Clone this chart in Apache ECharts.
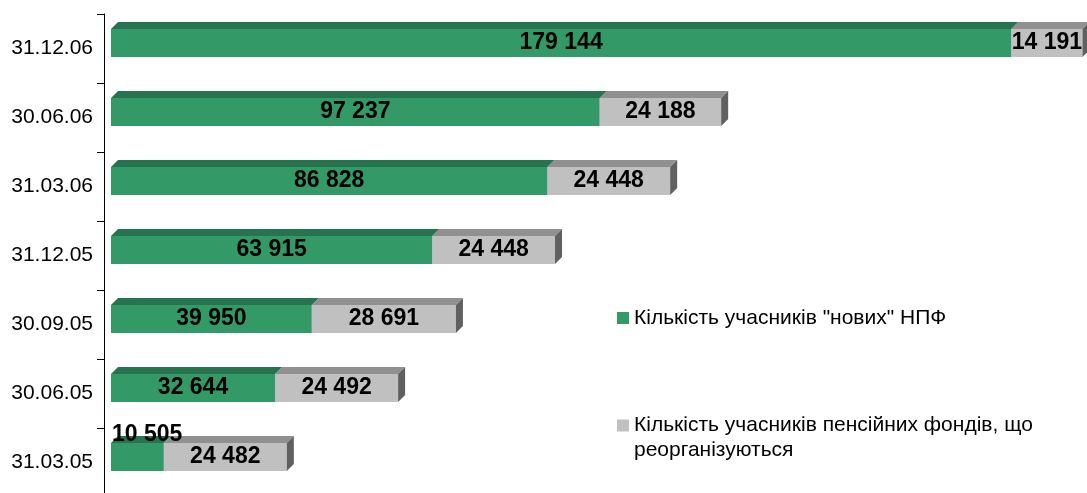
<!DOCTYPE html>
<html>
<head>
<meta charset="utf-8">
<script src="https://cdn.jsdelivr.net/npm/echarts@6/dist/echarts.min.js"></script>
<style>
  html, body { margin: 0; padding: 0; background: #fff; }
  #chart { width: 1087px; height: 493px; }
</style>
</head>
<body>
<div id="chart"></div>
<script>
// дати (знизу вгору)
const dates = ['31.03.05', '30.06.05', '30.09.05', '31.12.05', '31.03.06', '30.06.06', '31.12.06']
// учасники "нових" НПФ
const newFunds = [10505, 32644, 39950, 63915, 86828, 97237, 179144]
// учасники фондів, що реорганізуються
const reorgFunds = [24482, 24492, 28691, 24448, 24448, 24188, 14191]

const nameNew = 'Кількість учасників "нових" НПФ'
const nameReorg = 'Кількість учасників пенсійних фондів, що реорганізуються'

const FONT = 'Liberation Sans, Arial, sans-serif'
const D = 7 // глибина 3D

function fmt(v) {
  return String(v).replace(/\B(?=(\d{3})+(?!\d))/g, ' ')
}

function makeRender(colors, withSide, small) {
  return function (params, api) {
    const cat = api.value(0)
    const start = api.value(1)
    const end = api.value(2)
    const val = api.value(3)
    const p0 = api.coord([start, cat])
    const p1 = api.coord([end, cat])
    const yc = p0[1]
    const x0 = p0[0] + D
    const x1 = p1[0] + D
    const yt = yc - 19.5
    const h = 28
    const children = [
      { type: 'rect', shape: { x: x0, y: yt, width: x1 - x0, height: h }, style: { fill: colors[0] } },
      { type: 'polygon', shape: { points: [[x0, yt], [x0 + D, yt - D], [x1 + D, yt - D], [x1, yt]] }, style: { fill: colors[1] } }
    ]
    if (withSide) {
      children.push({ type: 'polygon', shape: { points: [[x1, yt], [x1 + D, yt - D], [x1 + D, yt + h - D], [x1, yt + h]] }, style: { fill: colors[2] } })
    }
    const isSmall = val < small
    children.push({
      type: 'text',
      style: {
        text: fmt(val),
        x: isSmall ? x0 + 1 : (x0 + x1) / 2,
        y: isSmall ? yc - 28 : yc - 5.5,
        align: isSmall ? 'left' : 'center',
        verticalAlign: 'middle',
        font: 'bold 23px ' + FONT,
        fill: '#000'
      }
    })
    return { type: 'group', children }
  }
}

const chart = echarts.init(document.getElementById('chart'))
chart.setOption({
  backgroundColor: '#fff',
  animation: false,
  grid: { left: 104, top: 14, width: 1005, height: 483, outerBoundsMode: 'none' },
  xAxis: { type: 'value', min: 0, max: 200000, show: false, splitLine: { show: false } },
  yAxis: {
    type: 'category',
    data: dates,
    axisLine: { show: true, lineStyle: { color: '#000', width: 1 } },
    axisTick: { show: true, length: 7, lineStyle: { color: '#000' } },
    axisLabel: { color: '#000', fontSize: 21, fontFamily: FONT, margin: 11 }
  },
  legend: [
    {
      left: 617, top: 307, padding: 0, icon: 'rect', itemWidth: 12, itemHeight: 12, itemGap: 0,
      selectedMode: false,
      data: [nameNew],
      textStyle: { color: '#000', fontSize: 21, fontFamily: FONT, lineHeight: 22 }
    },
    {
      left: 617, top: 388, padding: 0, icon: 'rect', itemWidth: 12, itemHeight: 12, itemGap: 0,
      selectedMode: false,
      data: [nameReorg],
      formatter: n => '\n' + n.replace(', що ', ', що\n'),
      textStyle: { color: '#000', fontSize: 21, fontFamily: FONT, lineHeight: 25 }
    }
  ],
  series: [
    {
      name: nameNew,
      type: 'custom',
      z: 3,
      itemStyle: { color: '#339966' },
      renderItem: makeRender(['#339966', '#267350', '#1f5c40'], false, 20000),
      encode: { x: [1, 2], y: 0 },
      data: newFunds.map((v, i) => [i, 0, v, v])
    },
    {
      name: nameReorg,
      type: 'custom',
      z: 2,
      itemStyle: { color: '#c0c0c0' },
      renderItem: makeRender(['#c0c0c0', '#909090', '#606060'], true, 0),
      encode: { x: [1, 2], y: 0 },
      data: reorgFunds.map((v, i) => [i, newFunds[i], newFunds[i] + v, v])
    }
  ]
})
</script>
</body>
</html>
